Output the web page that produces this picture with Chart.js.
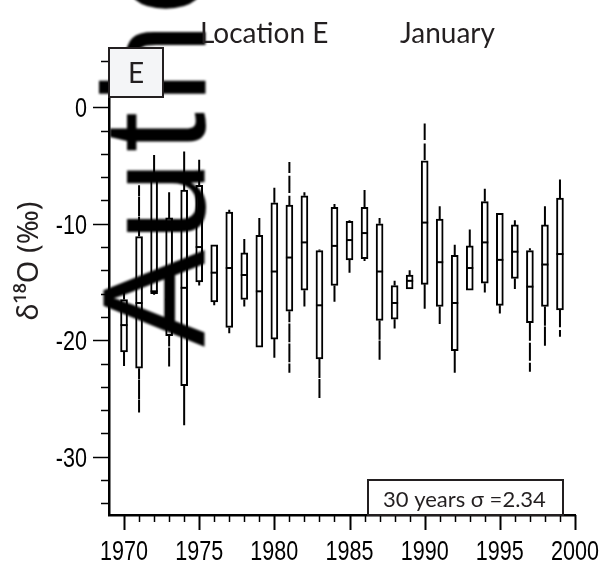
<!DOCTYPE html>
<html>
<head>
<meta charset="utf-8">
<script src="https://cdn.jsdelivr.net/npm/chart.js@4/dist/chart.umd.min.js"></script>
<style>
  html, body { margin: 0; padding: 0; background: #fff; }
  #wrap { width: 605px; height: 563px; position: relative; }
</style>
</head>
<body>
<div id="wrap"><canvas id="chart"></canvas></div>
<script>
// January d18O per year, Location E (‰)
const years = [1970, 1971, 1972, 1973, 1974, 1975, 1976, 1977, 1978, 1979,
  1980, 1981, 1982, 1983, 1984, 1985, 1986, 1987, 1988, 1989,
  1990, 1991, 1992, 1993, 1994, 1995, 1996, 1997, 1998, 1999];
const whiskerHigh = [-15.3, -6.7, -4.1, -7.3, -3.8, -4.5, -11.8, -8.8, -11.3, -9.5,
  -6.9, -4.7, -7.3, -12.2, -8.3, -9.7, -7.1, -9.5, -14.9, -14.0,
  -1.4, -8.5, -11.8, -10.5, -7.0, -9.1, -9.7, -12.1, -8.5, -6.2];
const boxHigh = [-16.5, -11.1, -5.8, -9.5, -7.1, -6.7, -11.8, -9.0, -12.5, -11.0,
  -8.2, -8.4, -7.6, -12.3, -8.6, -9.8, -8.6, -10.0, -15.3, -14.4,
  -4.6, -9.6, -12.7, -11.9, -8.1, -9.1, -10.1, -12.3, -10.1, -7.8];
const medians = [-18.7, -16.8, -15.8, -16.5, -15.5, -12.0, -14.2, -13.8, -14.4, -15.8,
  -14.1, -12.9, -11.6, -17.0, -11.9, -11.4, -10.8, -14.1, -16.8, -14.9,
  -9.9, -13.3, -16.8, -13.8, -11.6, -13.1, -12.4, -15.4, -13.5, -12.6];
const boxLow = [-21.0, -22.4, -16.0, -19.6, -23.9, -15.0, -16.7, -18.9, -16.5, -20.6,
  -19.9, -17.5, -15.7, -21.6, -15.3, -13.1, -13.0, -18.3, -18.2, -15.6,
  -15.2, -17.1, -20.9, -15.7, -15.1, -17.0, -14.7, -18.5, -17.1, -17.4];
const whiskerLow = [-22.2, -26.2, -16.1, -22.3, -27.3, -15.3, -17.0, -19.4, -17.1, -20.6,
  -21.5, -22.8, -17.1, -25.0, -16.7, -14.2, -13.2, -21.7, -19.0, -15.6,
  -17.3, -18.6, -22.8, -15.7, -15.9, -17.7, -15.6, -22.7, -20.5, -19.7];

// whiskers that are drawn broken in the original
const dashedUpper = [1971, 1981, 1990];
const dashedLower = [1971, 1973, 1981, 1983, 1987, 1997, 1998, 1999];

const xTicks = [1970, 1975, 1980, 1985, 1990, 1995, 2000];
const yTicks = [-30, -20, -10, 0];

const tickFont = "28px 'Liberation Sans', Arial, sans-serif";
const textFont = "Lato, 'Open Sans', sans-serif";

// whisker polyline: max->q3, break, q1->min, break
const whiskerPts = [];
years.forEach((yr, i) => {
  whiskerPts.push({ x: yr, y: whiskerHigh[i] }, { x: yr, y: boxHigh[i] }, { x: yr, y: null });
  whiskerPts.push({ x: yr, y: boxLow[i] }, { x: yr, y: whiskerLow[i] }, { x: yr, y: null });
});

function whiskerDash(ctx) {
  const idx = ctx.p0DataIndex;
  const yr = years[Math.floor(idx / 6)];
  const upper = idx % 6 < 3;
  const dashed = upper ? dashedUpper.includes(yr) : dashedLower.includes(yr);
  return dashed ? [11, 9] : undefined;
}

// condensed tick label (no narrow font installed, so squeeze horizontally)
function narrowText(ctx, text, x, y, align) {
  const sx = 0.77;
  ctx.save();
  ctx.font = tickFont;
  const w = ctx.measureText(text).width * sx;
  const left = align === "right" ? x - w : x - w / 2;
  ctx.translate(left, y);
  ctx.scale(sx, 1);
  ctx.textAlign = "left";
  ctx.textBaseline = "alphabetic";
  ctx.fillText(text, 0, 0);
  ctx.restore();
}

const decor = {
  id: "decor",
  afterDatasetsDraw(chart) {
    const { ctx, scales } = chart;
    const xs = scales.x, ys = scales.y;
    const left = chart.chartArea.left, bottom = chart.chartArea.bottom;
    ctx.save();
    ctx.strokeStyle = "#000";
    ctx.fillStyle = "#000";
    ctx.lineWidth = 1.5;
    // y ticks: minor every 2, major every 10
    for (let v = -34; v <= 4; v += 2) {
      const py = Math.round(ys.getPixelForValue(v)) + 0.5;
      const len = v % 10 === 0 ? 16 : 8;
      ctx.beginPath();
      ctx.moveTo(left - len, py);
      ctx.lineTo(left, py);
      ctx.stroke();
    }
    yTicks.forEach(v => narrowText(ctx, String(v), 87, ys.getPixelForValue(v) + 10, "right"));
    // x ticks: minor every year, major every 5
    for (let v = 1970; v <= 2000; v++) {
      const px = Math.round(xs.getPixelForValue(v)) + 0.5;
      const len = v % 5 === 0 ? 15 : 7;
      ctx.lineWidth = v % 5 === 0 ? 2 : 1.5;
      ctx.beginPath();
      ctx.moveTo(px, bottom);
      ctx.lineTo(px, bottom + len);
      ctx.stroke();
    }
    xTicks.forEach(v => narrowText(ctx, String(v), xs.getPixelForValue(v), 560, "center"));

    // y axis title
    ctx.save();
    ctx.translate(38, 261);
    ctx.rotate(-Math.PI / 2);
    ctx.fillStyle = "#231f20";
    ctx.font = "29px 'Noto Sans', sans-serif";
    ctx.textAlign = "center";
    ctx.textBaseline = "alphabetic";
    ctx.fillText("δ¹⁸O (‰)", 0, 0);
    ctx.restore();

    // "Author" watermark, rotated
    ctx.save();
    ctx.translate(205, 347);
    ctx.rotate(-Math.PI / 2);
    ctx.filter = "blur(1.3px)";
    ctx.fillStyle = "#000";
    ctx.font = "146px 'Liberation Sans', Arial, sans-serif";
    ctx.textBaseline = "alphabetic";
    let p = 0;
    for (const ch of "Author") {
      ctx.fillText(ch, p, 0);
      p += ctx.measureText(ch).width + 8;
    }
    ctx.restore();

    // panel label box
    ctx.fillStyle = "#f4f5f7";
    ctx.fillRect(109, 48, 54, 49);
    ctx.strokeStyle = "#231f20";
    ctx.lineWidth = 2;
    ctx.strokeRect(109, 48, 54, 49);
    ctx.fillStyle = "#231f20";
    ctx.font = "28px " + textFont;
    ctx.textAlign = "center";
    ctx.textBaseline = "alphabetic";
    ctx.fillText("E", 136, 83);

    // titles
    ctx.textAlign = "left";
    ctx.fillText("Location E", 200, 43);
    ctx.fillText("January", 400, 43);

    // sigma box
    ctx.fillStyle = "#fff";
    ctx.fillRect(368, 480, 195, 35);
    ctx.strokeStyle = "#231f20";
    ctx.lineWidth = 2;
    ctx.strokeRect(368, 480, 195, 35);
    ctx.fillStyle = "#231f20";
    ctx.font = "22px " + textFont;
    ctx.fillText("30 years σ =2.34", 383, 507);
    ctx.restore();
  }
};

new Chart(document.getElementById("chart"), {
  data: {
    datasets: [
      {
        type: "line",
        data: whiskerPts,
        borderColor: "#000",
        borderWidth: 2,
        pointRadius: 0,
        spanGaps: false,
        segment: { borderDash: whiskerDash },
        order: 3
      },
      {
        type: "bar",
        data: years.map((yr, i) => ({ x: yr, y: [boxLow[i], boxHigh[i]] })),
        backgroundColor: "#fff",
        borderColor: "#000",
        borderWidth: 2,
        borderSkipped: false,
        barThickness: 7,
        order: 2
      },
      {
        type: "scatter",
        data: years.map((yr, i) => ({ x: yr, y: medians[i] })),
        pointStyle: "line",
        pointRadius: 3.5,
        borderColor: "#000",
        borderWidth: 2,
        order: 1
      }
    ]
  },
  options: {
    responsive: true,
    maintainAspectRatio: false,
    animation: false,
    layout: { padding: { top: 49, right: 30, left: 0, bottom: 0 } },
    plugins: { legend: { display: false }, tooltip: { enabled: false } },
    scales: {
      x: {
        type: "linear",
        min: 1969,
        max: 2000,
        offset: false,
        grid: { display: false, drawTicks: false },
        border: { display: true, color: "#000", width: 2.5 },
        afterBuildTicks: s => { s.ticks = xTicks.map(v => ({ value: v })); },
        afterFit: s => { s.height = 48; },
        ticks: { display: false }
      },
      y: {
        type: "linear",
        min: -35,
        max: 5,
        grid: { display: false, drawTicks: false },
        border: { display: true, color: "#000", width: 2.5 },
        afterBuildTicks: s => { s.ticks = yTicks.map(v => ({ value: v })); },
        afterFit: s => { s.width = 109; },
        ticks: { display: false }
      }
    }
  },
  plugins: [decor]
});
</script>
</body>
</html>
